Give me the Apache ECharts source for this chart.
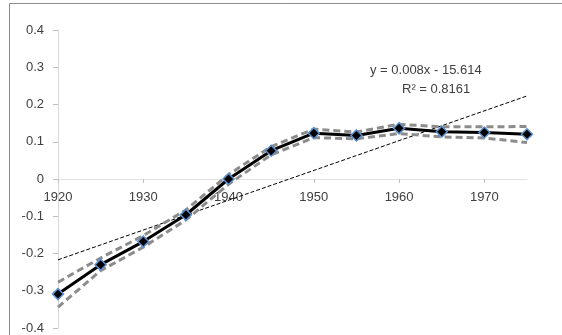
<!DOCTYPE html>
<html><head><meta charset="utf-8">
<script src="https://cdn.jsdelivr.net/npm/echarts@6/dist/echarts.min.js"></script>
<style>html,body{margin:0;padding:0;background:#fff}#c{width:562px;height:335px}</style>
</head><body><div id="c"></div>
<script>
const years = [1920,1925,1930,1935,1940,1945,1950,1955,1960,1965,1970,1975];
const values = [-0.309,-0.230,-0.168,-0.096,0.000,0.076,0.123,0.117,0.136,0.127,0.125,0.120];
const upper = [-0.277,-0.212,-0.152,-0.083,0.012,0.087,0.134,0.126,0.147,0.140,0.140,0.141];
const lower = [-0.344,-0.246,-0.183,-0.110,-0.014,0.065,0.111,0.108,0.122,0.113,0.110,0.098];
const trendYears = [1920,1975];
const trendValues = [-0.217,0.223];
const xTicks = [1920,1930,1940,1950,1960,1970];
const yTicks = [0.4,0.3,0.2,0.1,0,-0.1,-0.2,-0.3,-0.4];
const eqText = "y = 0.008x - 15.614";
const r2Text = "R² = 0.8161";

const pair = (xs, ys) => xs.map((x,i)=>[x, ys[i]]);
const font = "'Liberation Sans', Arial, sans-serif";
const gridTop = 30, gridBottom = 7, H = 335;
const plotH = H - gridTop - gridBottom;
const zeroOffset = -plotH * (0 - (-0.4)) / 0.8;
const chart = echarts.init(document.getElementById('c'), null, {renderer:'canvas'});
chart.setOption({
  animation:false,
  backgroundColor:'#fff',
  grid:{left:58,right:35,top:gridTop,bottom:gridBottom,containLabel:false},
  xAxis:{type:'value',min:1920,max:1975,interval:10,position:'bottom',offset:zeroOffset,
    axisLine:{onZero:false,lineStyle:{color:'#e3e3e3',width:1}},
    axisTick:{show:true,length:4,inside:false,lineStyle:{color:'#bfbfbf'}},
    axisLabel:{color:'#404040',fontFamily:font,fontSize:13,margin:12,showMaxLabel:false,
      formatter:v=>xTicks.includes(v)?String(v):''},
    splitLine:{show:false}},
  yAxis:{type:'value',min:-0.4,max:0.4,interval:0.1,
    axisLine:{show:true,lineStyle:{color:'#d9d9d9',width:1}},
    axisTick:{show:true,length:5,lineStyle:{color:'#bfbfbf'}},
    axisLabel:{color:'#404040',fontFamily:font,fontSize:13,margin:14,
      formatter:v=>{const t=yTicks.find(y=>Math.abs(y-v)<1e-9); return t===undefined?'':(t===0?'0':t.toFixed(1));}},
    splitLine:{show:false}},
  series:[
    {type:'line',data:pair(trendYears,trendValues),symbol:'none',z:1,
      lineStyle:{color:'#000',width:1,type:[4,2]}},
    {type:'line',data:pair(years,upper),symbol:'none',z:2,
      lineStyle:{color:'#8c8c8c',width:3,type:[7,4]}},
    {type:'line',data:pair(years,lower),symbol:'none',z:2,
      lineStyle:{color:'#8c8c8c',width:3,type:[7,4]}},
    {type:'line',data:pair(years,values),z:3,symbol:'diamond',symbolSize:11,
      lineStyle:{color:'#000',width:3},
      itemStyle:{color:'#000',borderColor:'#5b8fd0',borderWidth:1.5}}
  ],
  graphic:[
    {type:'rect',shape:{x:9.5,y:3.5,width:600,height:400},style:{fill:'none',stroke:'#8c8c8c',lineWidth:1},silent:true},
    {type:'text',left:370,top:64,style:{text:eqText,fill:'#404040',font:'13px '+font}},
    {type:'text',left:402,top:83,style:{text:r2Text,fill:'#404040',font:'13px '+font}}
  ]
});
</script></body></html>
